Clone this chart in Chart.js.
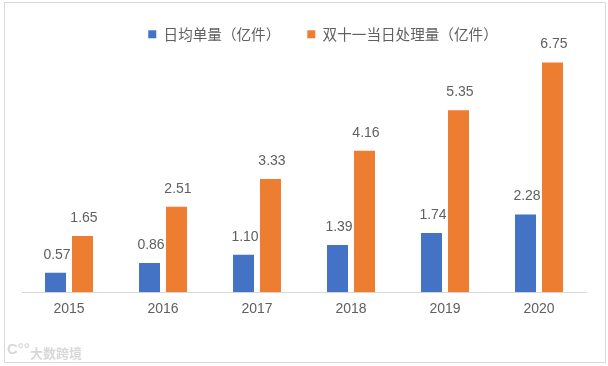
<!DOCTYPE html>
<html>
<head>
<meta charset="utf-8">
<script src="https://cdn.jsdelivr.net/npm/chart.js@4/dist/chart.umd.min.js"></script>
<style>
  html, body { margin: 0; padding: 0; background: #fff; }
  #wrap { position: relative; width: 608px; height: 366px; overflow: hidden; }
  #frame { position: absolute; left: 4px; top: 2px; width: 600px; height: 359px; border: 1px solid #d9d9d9; }
  #logo { position: absolute; left: 7px; top: 340px; font: bold 15px "Liberation Sans"; color: #d8d8d8; }
  #mark { position: absolute; left: 30px; top: 343px; font: bold 13px "Noto Sans CJK SC"; color: #d8d8d8; }
  canvas { position: absolute; left: 0; top: 0; }
</style>
</head>
<body>
<div id="wrap">
  <div id="frame"></div>
  <canvas id="myChart" width="608" height="366"></canvas>
  <div id="logo">C°°</div>
  <div id="mark">大数跨境</div>
</div>
<script>
var years = ['2015', '2016', '2017', '2018', '2019', '2020'];
var dailyOrders = [0.57, 0.86, 1.10, 1.39, 1.74, 2.28];
var singlesDayOrders = [1.65, 2.51, 3.33, 4.16, 5.35, 6.75];

// value labels above each bar
var barLabels = {
    id: 'barLabels',
    afterDatasetsDraw: function (chart) {
        var ctx = chart.ctx;
        ctx.save();
        ctx.font = '14px "Liberation Sans"';
        ctx.fillStyle = '#606060';
        ctx.textAlign = 'center';
        ctx.textBaseline = 'middle';
        chart.data.datasets.forEach(function (ds, i) {
            chart.getDatasetMeta(i).data.forEach(function (bar, j) {
                ctx.fillText(ds.data[j].toFixed(2), bar.x + 1.5, bar.y - 18);
            });
        });
        ctx.restore();
    }
};

// the legend overlaps the plot's top and sits right of centre in the original
var legendFit = {
    id: 'legendFit',
    beforeLayout: function (chart) {
        var legend = chart.legend;
        if (!legend.origFit) {
            legend.origFit = legend.fit;
            legend.fit = function () {
                legend.origFit.call(legend);
                legend.height = 54;
            };
        }
    },
    afterLayout: function (chart) {
        chart.legend.left += 19;
        chart.legend.right += 19;
    }
};

var ctx = document.getElementById('myChart').getContext('2d');
var myChart = new Chart(ctx, {
    type: 'bar',
    data: {
        labels: years,
        datasets: [{
            label: '日均单量（亿件）',
            data: dailyOrders,
            backgroundColor: '#4472C4'
        }, {
            label: '双十一当日处理量（亿件）',
            data: singlesDayOrders,
            backgroundColor: '#ED7D31'
        }]
    },
    options: {
        responsive: false,
        animation: false,
        layout: { padding: { left: 22, right: 22, top: 0, bottom: 39 } },
        datasets: { bar: { categoryPercentage: 0.574, barPercentage: 0.778 } },
        plugins: {
            tooltip: { enabled: false },
            legend: {
                position: 'top',
                labels: {
                    boxWidth: 8,
                    boxHeight: 8,
                    padding: 27,
                    color: '#606060',
                    font: { family: '"Noto Sans CJK SC"', size: 14.6 }
                }
            }
        },
        scales: {
            x: {
                grid: { display: false, drawTicks: false },
                border: { color: '#d9d9d9' },
                ticks: {
                    color: '#606060',
                    padding: 9,
                    font: { family: '"Liberation Sans"', size: 14 }
                }
            },
            y: { display: false, min: 0, max: 7 }
        }
    },
    plugins: [barLabels, legendFit]
});
</script>
</body>
</html>
